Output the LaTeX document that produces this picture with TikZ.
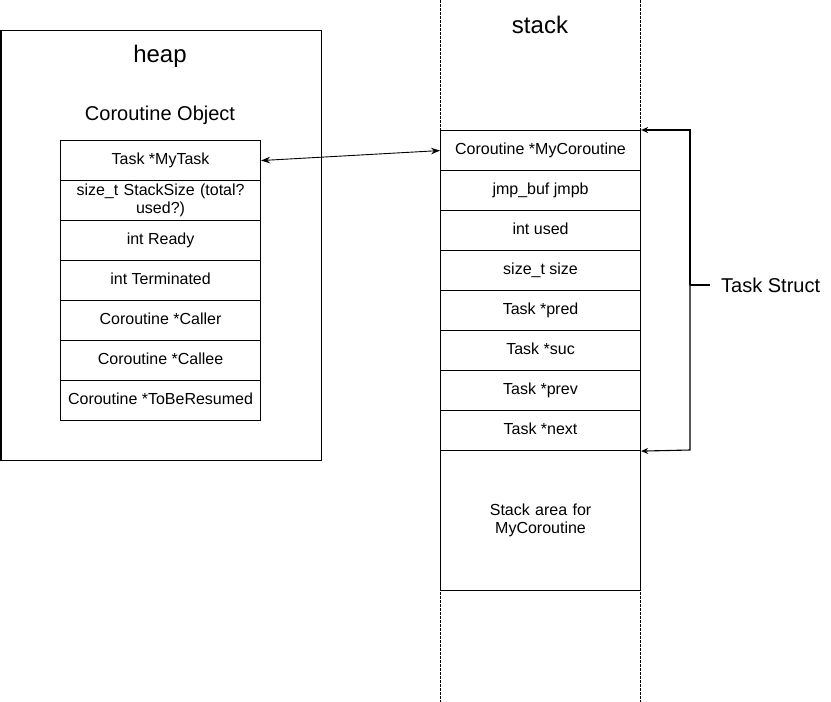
\documentclass[tikz,border=0pt]{standalone}
\usepackage{fontspec}
\setmainfont{Liberation Sans}
\usetikzlibrary{arrows.meta}
\begin{document}
\begin{tikzpicture}[x=1pt,y=-1pt,
  cell/.style={draw,line width=1.1pt,minimum width=200pt,minimum height=40pt,inner sep=2pt,
    anchor=north west,align=center,font=\fontsize{16}{18}\selectfont},
  one/.style={text height=11.5pt,text depth=3.5pt},
  title/.style={font=\fontsize{24}{27}\selectfont},
  sub/.style={font=\fontsize{20}{23}\selectfont},
  guide/.style={line width=0.9pt,dash pattern=on 2.5pt off 1.5pt},
  link/.style={line width=0.9pt,{Stealth[length=9pt,width=6.5pt]}-{Stealth[length=9pt,width=6.5pt]}},
  brk/.style={line width=1.1pt}
]
\useasboundingbox (0,0) rectangle (831,702);
\fill[white] (0,0) rectangle (831,702);

% heap
\node[draw,line width=1.1pt,minimum width=320pt,minimum height=430pt,anchor=north west] (heapbox) at (0.5,30) {};
\node[title] (heap) at (160,56) {heap};
\node[sub] (cobj) at (160,115) {Coroutine Object};

\node[cell,one] (h1) at (60,140) {Task *MyTask};
\node[cell,text width=194pt] (h2) at (60,180) {size\_t StackSize (total?\\used?)};
\node[cell,one] (h3) at (60,220) {int Ready};
\node[cell,one] (h4) at (60,260) {int Terminated};
\node[cell,one] (h5) at (60,300) {Coroutine *Caller};
\node[cell,one] (h6) at (60,340) {Coroutine *Callee};
\node[cell,one] (h7) at (60,380) {Coroutine *ToBeResumed};

% stack
\coordinate (gl1) at (440,0);
\coordinate (gl2) at (440,702);
\coordinate (gr1) at (640,0);
\coordinate (gr2) at (640,702);
\draw[guide] (gl1) -- (gl2);
\draw[guide] (gr1) -- (gr2);
\node[title] (stack) at (540,25) {stack};

\node[cell,one] (s1) at (440,130) {Coroutine *MyCoroutine};
\node[cell,one] (s2) at (440,170) {jmp\_buf jmpb};
\node[cell,one] (s3) at (440,210) {int used};
\node[cell,one] (s4) at (440,250) {size\_t size};
\node[cell,one] (s5) at (440,290) {Task *pred};
\node[cell,one] (s6) at (440,330) {Task *suc};
\node[cell,one] (s7) at (440,370) {Task *prev};
\node[cell,one] (s8) at (440,410) {Task *next};
\node[cell,minimum height=140pt,text width=194pt] (s9) at (440,450) {Stack area for\\MyCoroutine};

% link
\draw[link] (h1.east) -- (s1.west);

% bracket
\coordinate (bt) at (690,130);
\coordinate (bb) at (690,450);
\coordinate (bm) at (690,285);
\coordinate (bmt) at (710,285);
\draw[brk,-{Stealth[open,length=7pt,width=6pt]}] (bm) -- (bt) -- (s1.north east);
\draw[brk,-{Stealth[open,length=7pt,width=6pt]}] (bm) -- (bb) -- (s8.south east);
\draw[brk] (bm) -- (bmt);
\node[sub,anchor=west,inner sep=0pt] (ts) at (721,285) {Task Struct};
\end{tikzpicture}
\end{document}
